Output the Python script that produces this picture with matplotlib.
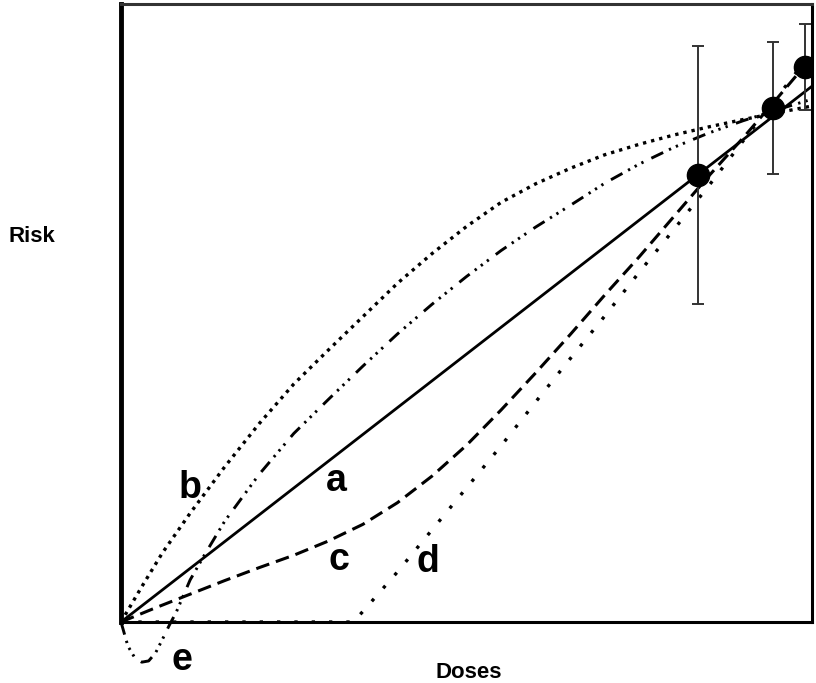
import numpy as np
import matplotlib
matplotlib.use("Agg")
import matplotlib.pyplot as plt

plt.rcParams['font.family'] = ['Liberation Sans', 'DejaVu Sans']

# dose grid shared by the curves (arbitrary units, 0-100)
doses = [0, 5, 10, 15, 20, 25, 30, 35, 40, 45, 50, 55, 60, 65, 70, 75, 80, 85, 90, 95, 100]

# a: linear fit
dose_a = [0, 100]
risk_a = [0, 86.7]

# b: concave (supralinear)
dose_b = [0, 3, 6, 10, 15, 20, 25, 30, 35, 40, 45, 50, 55, 60, 65, 70, 75, 80, 85, 90, 95, 100]
risk_b = [0, 5.7, 11.2, 17.6, 25.1, 32.1, 38.5, 44.0, 49.4, 54.8, 59.6, 64.0, 67.9,
          70.9, 73.4, 75.6, 77.3, 78.8, 80.1, 81.3, 82.4, 83.5]

# c: convex (sublinear at low dose)
risk_c = [0, 2.3, 4.5, 6.7, 8.8, 10.8, 13.1, 15.8, 19.3, 23.6, 28.6, 34.3, 40.3,
          46.5, 52.9, 59.1, 65.6, 72.1, 78.3, 84.8, 91.4]

# d: threshold
dose_d = [0, 33.6, 35, 40, 45, 50, 55, 60, 65, 70, 75, 80, 85, 90, 95, 100]
risk_d = [0, 0, 1.7, 8.1, 14.9, 21.7, 28.5, 35.6, 42.6, 49.5, 56.6, 63.5, 70.5,
          77.8, 85.0, 92.2]

# e: hormesis (dips below zero)
dose_e = [0, 1, 2, 3, 4, 5, 6, 7, 8, 10, 12, 15, 20, 25, 30, 35, 40, 45, 50, 55,
          60, 65, 70, 75, 80, 85, 90, 95, 100]
risk_e = [0, -3.9, -5.8, -6.5, -6.3, -5.0, -2.8, -0.5, 1.6, 6.8, 10.7, 16.3, 23.9,
          30.5, 36.0, 41.4, 46.6, 51.4, 55.9, 60.1, 63.9, 67.4, 71.0, 74.1, 76.8,
          79.1, 81.1, 82.9, 84.6]

# observed data with error bars
obs_dose = [83.5, 94.4, 99.0]
obs_risk = [72.3, 83.2, 89.8]
obs_err = [20.9, 10.7, 7.0]

labels = ["a", "b", "c", "d", "e"]
label_pos = [(31.1, 22.8), (10.0, 21.7), (31.5, 10.0), (44.4, 9.7), (8.8, -6.1)]

fig = plt.figure(figsize=(8.16, 6.83), dpi=100)
ax = fig.add_axes([121/816, 61/683, 691/816, 618/683])

ax.plot(dose_a, risk_a, "-", color="black", lw=2.0)
ax.plot(dose_b, risk_b, color="black", lw=2.4, linestyle=(0, (1, 1.5)))
ax.plot(doses, risk_c, color="black", lw=2.2, linestyle=(0, (4.5, 2.3)))
ax.plot(dose_d, risk_d, color="black", lw=2.4, linestyle=(0, (1, 4.2)), zorder=1)
ax.plot(dose_e, risk_e, color="black", lw=2.1, clip_on=False,
        linestyle=(0, (4.5, 2.2, 0.8, 1.8, 0.8, 1.8, 0.8, 3.0)))

ax.errorbar(obs_dose, obs_risk, yerr=obs_err, fmt="o", color="black", ms=16,
            ecolor="#333333", elinewidth=1.4, capsize=4.5, capthick=1.4, zorder=5)

for lab, (x, y) in zip(labels, label_pos):
    ax.text(x, y, lab, fontsize=27, fontweight="bold", ha="center", va="center")

ax.set_xlim(0, 100)
ax.set_ylim(0, 100)
ax.set_xticks([])
ax.set_yticks([])
for side in ["top", "right", "bottom"]:
    ax.spines[side].set_linewidth(2.2)
ax.spines["left"].set_linewidth(3.5)
ax.spines["top"].set_color("#333333")

fig.text(32/816, 1 - 237/683, "Risk", fontsize=16, fontweight="bold", ha="center", va="center")
fig.text(469/816, 1 - 672/683, "Doses", fontsize=16, fontweight="bold", ha="center", va="center")

fig.savefig("out.png", dpi=100)
